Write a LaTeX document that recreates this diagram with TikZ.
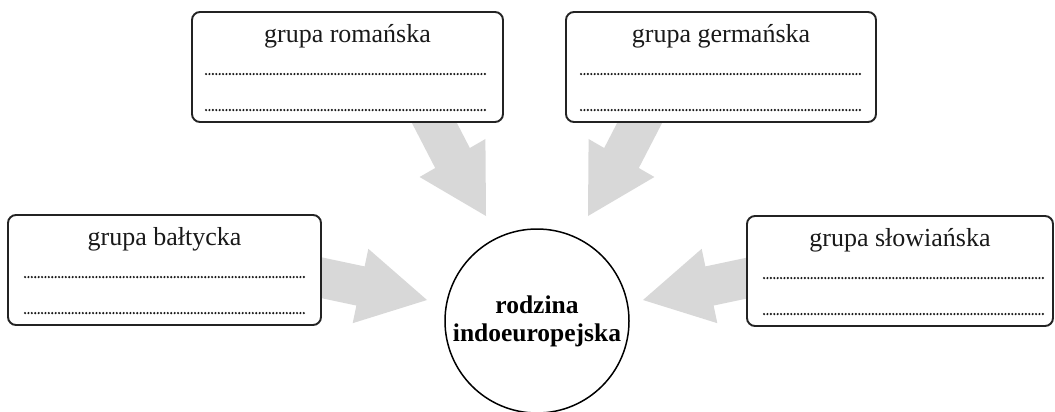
\documentclass[tikz,border=0pt]{standalone}
\usepackage{fontspec}
\setmainfont{Liberation Serif}
\usetikzlibrary{calc}
\definecolor{arrowgray}{RGB}{216,216,216}
\definecolor{framegray}{RGB}{35,35,35}
\newcommand\drawblockarrow[3]{%
  \fill[blockarrow] ($(#1)!20pt!90:(#3)$) -- ($(#2)!20pt!90:(#3)$) -- ($(#2)!38pt!90:(#3)$) -- (#3)
    -- ($(#2)!38pt!-90:(#3)$) -- ($(#2)!20pt!-90:(#3)$) -- ($(#1)!20pt!-90:(#3)$) -- cycle;}
\begin{document}
\begin{tikzpicture}[x=1pt,y=-1pt,
  groupbox/.style={draw=framegray, line width=1.9pt, rounded corners=8pt, fill=white, inner sep=0pt},
  title/.style={font=\fontsize{26}{30}\selectfont, anchor=base, inner sep=0pt, text=black!90},
  dotline/.style={draw=black!90, line width=2.4pt, line cap=round, dash pattern=on 0pt off 3.4pt},
  blockarrow/.style={fill=arrowgray, draw=none},
  family/.style={circle, draw=black, line width=1.5pt, minimum size=184pt, inner sep=0pt, align=center, font=\fontsize{25.5}{28}\bfseries\selectfont}
]
\useasboundingbox (0,0) rectangle (1055,412);
% arrow anchor points
\coordinate (romS) at (427.7,110);
\coordinate (romB) at (452.5,158);
\coordinate (romT) at (486,216);
\coordinate (gerS) at (646.3,110);
\coordinate (gerB) at (621.5,158);
\coordinate (gerT) at (588,216);
\coordinate (balS) at (310,275.3);
\coordinate (balB) at (360.5,286);
\coordinate (balT) at (427,300);
\coordinate (sloS) at (760,275.3);
\coordinate (sloB) at (709.5,286);
\coordinate (sloT) at (643,300);
\drawblockarrow{romS}{romB}{romT}
\drawblockarrow{gerS}{gerB}{gerT}
\drawblockarrow{balS}{balB}{balT}
\drawblockarrow{sloS}{sloB}{sloT}
% boxes
\node[groupbox, minimum width=311pt, minimum height=110pt] (rom) at (347.5,67) {};
\node[groupbox, minimum width=310pt, minimum height=110pt] (ger) at (721,67) {};
\node[groupbox, minimum width=313pt, minimum height=110pt] (bal) at (164.5,270) {};
\node[groupbox, minimum width=306pt, minimum height=110pt] (slo) at (900,271) {};
\foreach \b/\t/\l/\r in {rom/grupa romańska/15/17, ger/grupa germańska/16/17, bal/grupa bałtycka/18/17, slo/grupa słowiańska/18/10}{
  \node[title] (\b title) at ($(\b.north)+(0,31)$) {\t};
  \draw[dotline] ($(\b.north west)+(\l,63)$) -- ($(\b.north east)+(-\r,63)$);
  \draw[dotline] ($(\b.north west)+(\l,99)$) -- ($(\b.north east)+(-\r,99)$);
}
% central circle
\node[family] (fam) at (537,321) {rodzina\\indoeuropejska};
\end{tikzpicture}
\end{document}
